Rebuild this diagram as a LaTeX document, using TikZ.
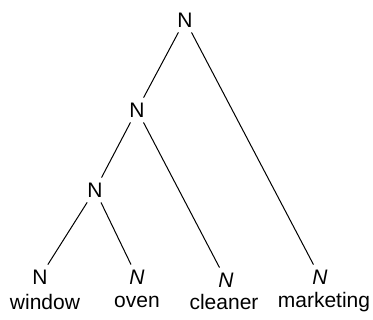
\documentclass[tikz,border=0pt]{standalone}
\usepackage{fontspec}
\setmainfont{Liberation Sans}
\begin{document}
\begin{tikzpicture}[x=1pt, y=-1pt, font=\fontsize{21}{25}\selectfont,
	cat/.style={inner sep=5pt},
	word/.style={inner sep=1pt}]
	
	\useasboundingbox (0,0) rectangle (373,320);
	
	\node[cat] (root) at (185,20) {N};
	\node[cat] (nb) at (137,110) {N};
	\node[cat] (nc) at (95,190) {N};
	\node[cat] (window) at (40,277) {N};
	\node[cat] (oven) at (137,277) {\textit{N}};
	\node[cat] (cleaner) at (226,280) {\textit{N}};
	\node[cat] (marketing) at (320,277) {\textit{N}};
	
	\node[word] at (45,302) {window};
	\node[word] at (137,302) {oven};
	\node[word] at (224,302) {cleaner};
	\node[word] at (324,302) {marketing};
	
	\draw[line width=1pt] (root) -- (nb);
	\draw[line width=1pt] (root) -- (marketing);
	\draw[line width=1pt] (nb) -- (nc);
	\draw[line width=1pt] (nb) -- (cleaner);
	\draw[line width=1pt] (nc) -- (window);
	\draw[line width=1pt] (nc) -- (oven);
\end{tikzpicture}
\end{document}
